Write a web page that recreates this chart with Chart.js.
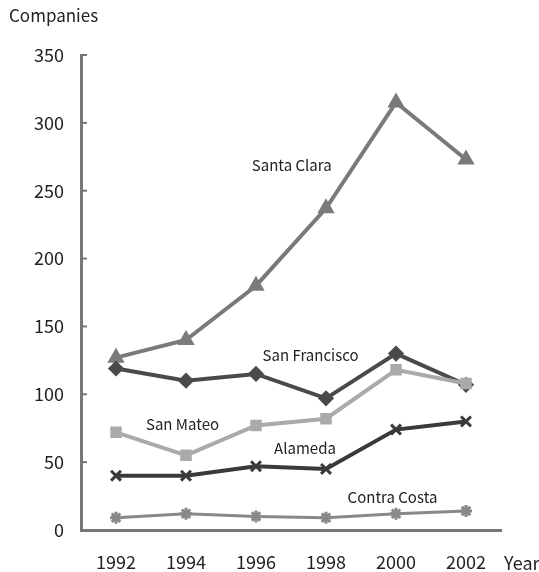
<!DOCTYPE html>
<html>
<head>
<meta charset="utf-8">
<script src="https://cdn.jsdelivr.net/npm/chart.js@4"></script>
<style>
    html, body { margin: 0; padding: 0; background: #fff; }
    #wrap { width: 539px; height: 572px; }
</style>
</head>
<body>
<div id="wrap"><canvas id="chart" width="539" height="572"></canvas></div>
<script>

const years = ["1992", "1994", "1996", "1998", "2000", "2002"];

const santaClara = [127, 140, 180, 237, 315, 273];
const sanFrancisco = [119, 110, 115, 97, 130, 107];
const sanMateo = [72, 55, 77, 82, 118, 108];
const alameda = [40, 40, 47, 45, 74, 80];
const contraCosta = [9, 12, 10, 9, 12, 14];

const yTicks = [0, 50, 100, 150, 200, 250, 300, 350];

const FONT = "'Noto Sans CJK JP', 'Noto Sans', sans-serif";

// series name labels, placed in data space (category index, value)
const seriesLabels = [
    { text: "Santa Clara", x: 2.51, y: 269 },
    { text: "San Francisco", x: 2.78, y: 129 },
    { text: "San Mateo", x: 0.95, y: 78 },
    { text: "Alameda", x: 2.7, y: 60 },
    { text: "Contra Costa", x: 3.95, y: 24 }
];

const annotate = {
    id: "annotate",
    afterDraw(chart) {
        const ctx = chart.ctx;
        const xs = chart.scales.x;
        const ys = chart.scales.y;
        const area = chart.chartArea;

        ctx.save();

        // inward tick marks on the y axis
        ctx.strokeStyle = "#777";
        ctx.lineWidth = 2;
        yTicks.forEach(v => {
            const py = ys.getPixelForValue(v);
            ctx.beginPath();
            ctx.moveTo(area.left, py);
            ctx.lineTo(area.left + 6, py);
            ctx.stroke();
        });

        ctx.fillStyle = "#222";
        ctx.font = "15px " + FONT;
        ctx.textAlign = "center";
        ctx.textBaseline = "middle";

        seriesLabels.forEach(l => {
            const step = xs.getPixelForValue(1) - xs.getPixelForValue(0);
            const px = xs.getPixelForValue(0) + l.x * step;
            ctx.fillText(l.text, px, ys.getPixelForValue(l.y));
        });

        ctx.textAlign = "left";
        ctx.font = "17px " + FONT;
        ctx.fillText("Companies", 9, 16);
        ctx.font = "18px " + FONT;
        ctx.fillText("Year", 504, 563);

        ctx.restore();
    }
};

function series(data, color, style, width, radius) {
    return {
        data: data,
        borderColor: color,
        backgroundColor: color,
        pointBackgroundColor: color,
        pointBorderColor: color,
        borderWidth: width,
        pointBorderWidth: 3,
        pointStyle: style,
        pointRadius: radius,
        tension: 0
    };
}

new Chart(document.getElementById("chart"), {

    type: "line",

    data: {
        labels: years,
        datasets: [
            series(contraCosta, "#888", "star", 3, 6),
            series(alameda, "#3a3a3a", "crossRot", 4, 7),
            series(sanMateo, "#aaa", "rect", 4, 6),
            series(sanFrancisco, "#4a4a4a", "rectRot", 4, 6),
            series(santaClara, "#7a7a7a", "triangle", 4, 7)
        ]
    },

    plugins: [annotate],

    options: {
        responsive: false,
        animation: false,
        layout: {
            padding: { top: 55, right: 38, left: 0, bottom: 0 }
        },
        plugins: {
            legend: { display: false },
            tooltip: { enabled: false }
        },
        scales: {
            x: {
                type: "category",
                offset: true,
                grid: { display: false, drawTicks: false },
                border: { color: "#777", width: 3 },
                ticks: {
                    color: "#222",
                    font: { size: 18, family: FONT },
                    padding: 21,
                    maxRotation: 0
                },
                afterFit(scale) { scale.height = 42; }
            },
            y: {
                min: 0,
                max: 350,
                afterBuildTicks(scale) {
                    scale.ticks = yTicks.map(v => ({ value: v }));
                },
                grid: { display: false, drawTicks: false },
                border: { color: "#777", width: 3 },
                ticks: {
                    color: "#222",
                    font: { size: 18, family: FONT },
                    padding: 17
                },
                afterFit(scale) { scale.width = 81; }
            }
        }
    }

});

</script>
</body>
</html>
